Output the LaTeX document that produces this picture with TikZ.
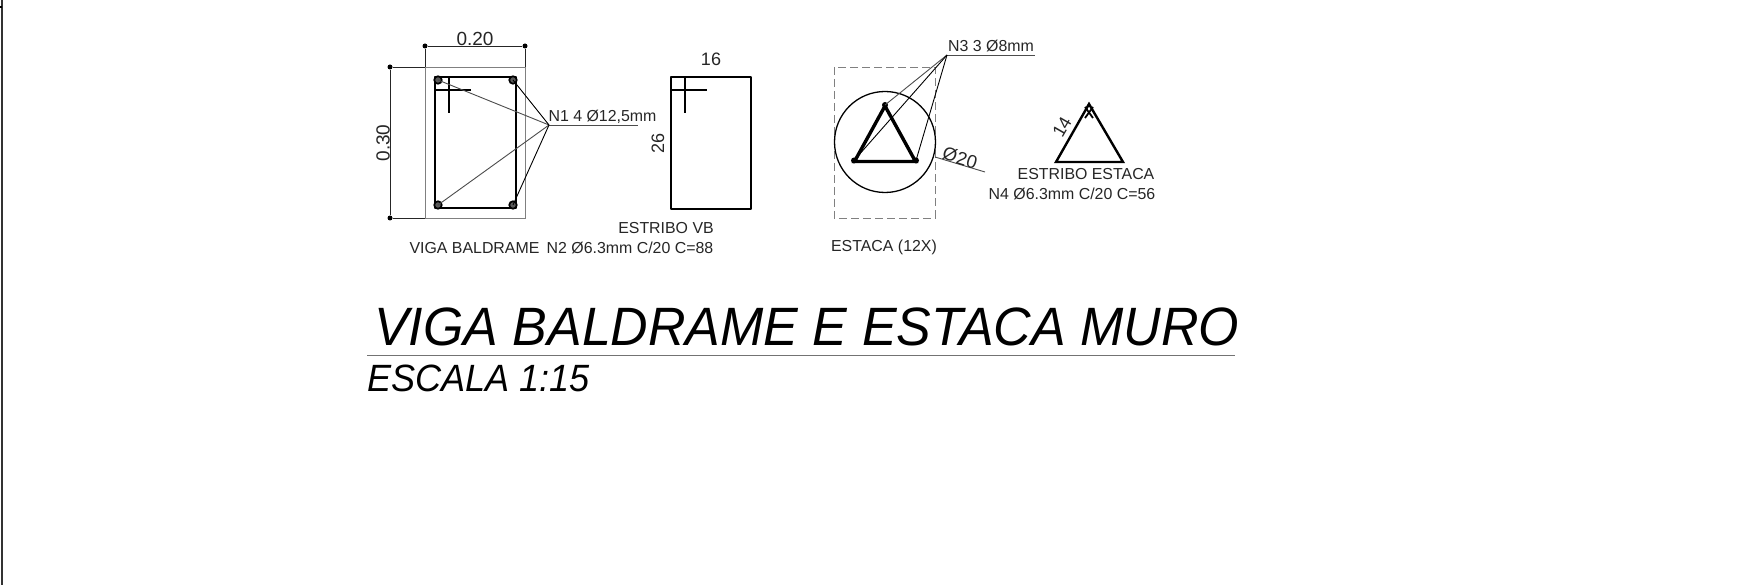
\documentclass[tikz,border=0pt]{standalone}
\usepackage{fontspec}
\setmainfont{Liberation Sans}
\tikzset{
  lbl/.style={inner sep=0pt,font=\fontsize{15.9}{17}\selectfont,text=black!85},
  dimlbl/.style={inner sep=0pt,font=\fontsize{19}{20}\selectfont,text=black!85},
  heavy/.style={draw=black,line width=1.6pt,line join=round},
  med/.style={draw=black,line width=1.1pt},
  thin1/.style={draw=black!70,line width=0.9pt},
  pale/.style={draw=black!50,line width=0.9pt},
  thick3/.style={draw=black,line width=3.4pt,line join=miter},
  bar/.style={circle,draw=black,fill=black!65,line width=1.7pt,minimum size=7.5pt,inner sep=0pt},
  tick/.style={circle,fill=black,minimum size=5pt,inner sep=0pt},
  corner/.style={circle,fill=black,minimum size=6pt,inner sep=0pt}
}
\begin{document}
\begin{tikzpicture}[x=1pt,y=-1pt]
\useasboundingbox[fill=white] (0,0) rectangle (1751,585);
% sheet border
\coordinate (bt) at (2,0); \coordinate (bb) at (2,585);
\coordinate (nk) at (0,7); \coordinate (nk2) at (2,7);
\draw[med,line width=1.3pt,draw=black!80] (bt) -- (bb);
\draw[med] (nk) -- (nk2);
% VIGA BALDRAME
\coordinate (oa) at (425,67); \coordinate (ob) at (525,218);
\draw[pale] (oa) rectangle (ob);
\coordinate (sa) at (435,77); \coordinate (sb) at (516,208);
\draw[heavy] (sa) rectangle (sb);
\coordinate (h1) at (435,90); \coordinate (h2) at (471,90);
\coordinate (h3) at (449,77); \coordinate (h4) at (449,113);
\draw[med] (h1) -- (h2); \draw[med] (h3) -- (h4);
\node[bar] (b1) at (438,80) {}; \node[bar] (b2) at (513,80) {};
\node[bar] (b3) at (438,205) {}; \node[bar] (b4) at (513,205) {};
% dims
\node[tick] (d1) at (425,46) {}; \node[tick] (d2) at (525,46) {};
\draw[thin1,draw=black!85] (d1) -- (d2);
\coordinate (oc) at (425,67); \coordinate (od) at (525,67);
\draw[thin1,draw=black!85] (d1) -- (oc); \draw[thin1,draw=black!85] (d2) -- (od);
\node[tick] (d3) at (390,67) {}; \node[tick] (d4) at (390,218) {};
\coordinate (oe) at (425,218);
\draw[thin1,draw=black!85] (d3) -- (d4); \draw[thin1,draw=black!85] (d3) -- (oc); \draw[thin1,draw=black!85] (d4) -- (oe);
\node[dimlbl] (t020) at (475,39) {0.20};
\node[dimlbl,rotate=90] (t030) at (383,143) {0.30};
% N1 leader
\coordinate (n1) at (549,125); \coordinate (n1e) at (638,125);
\draw[thin1] (n1) -- (n1e);
\draw[thin1] (n1) -- (b1.center);
\draw[thin1] (n1) -- (b3.center);
\draw[thin1,draw=black] (n1) -- (b2.center);
\draw[thin1,draw=black] (n1) -- (b4.center);
\node[lbl] (tn1) at (602.5,116.5) {N1 4 Ø12,5mm};
\node[lbl] (tviga) at (474.5,248) {VIGA BALDRAME};
% ESTRIBO VB
\coordinate (va) at (671,77); \coordinate (vb) at (751,209);
\draw[heavy,line width=1.4pt] (va) rectangle (vb);
\coordinate (v1) at (671,90); \coordinate (v2) at (707,90);
\coordinate (v3) at (685,77); \coordinate (v4) at (685,113);
\draw[med] (v1) -- (v2); \draw[med] (v3) -- (v4);
\node[dimlbl,font=\fontsize{18}{20}\selectfont] (t16) at (711,59) {16};
\node[dimlbl,font=\fontsize{18}{20}\selectfont,rotate=90] (t26) at (658,143) {26};
\node[lbl] (tvb) at (666,228) {ESTRIBO VB};
\node[lbl] (tn2) at (630,248) {N2 Ø6.3mm C/20 C=88};
% ESTACA
\coordinate (ea) at (834,67); \coordinate (eb) at (935,218);
\draw[pale,dash pattern=on 8pt off 4pt] (ea) rectangle (eb);
\node[circle,draw=black,line width=1.3pt,minimum size=101pt,inner sep=0pt] (circ) at (885,142) {};
\coordinate (ta) at (885,106); \coordinate (tb) at (915.5,161.5); \coordinate (tc) at (854.5,161.5);
\draw[thick3] (ta) -- (tb) -- (tc) -- cycle;
\node[corner] (ka) at (885,105) {}; \node[corner] (kb) at (916,160.5) {}; \node[corner] (kc) at (854,160.5) {};
\coordinate (n3) at (947,55); \coordinate (n3e) at (1035,55);
\draw[thin1] (n3) -- (n3e);
\draw[thin1] (n3) -- (ka.center);
\draw[thin1,draw=black] (n3) -- (kc.center);
\draw[thin1,draw=black] (n3) -- (kb.center);
\node[lbl] (tn3) at (991,46) {N3 3 Ø8mm};
\coordinate (f1) at (935,157); \coordinate (f2) at (985,172);
\draw[thin1] (f1) -- (f2);
\node[lbl,font=\fontsize{18.5}{20}\selectfont,rotate=-17] (td) at (960,158) {Ø20};
\node[lbl] (tes) at (884,247) {ESTACA (12X)};
% ESTRIBO ESTACA
\coordinate (ua) at (1089,104); \coordinate (ub) at (1123,162); \coordinate (uc) at (1056,162);
\draw[draw=black,line width=2.4pt,line join=miter] (ua) -- (ub) -- (uc) -- cycle;
\coordinate (x1) at (1085,107); \coordinate (x2) at (1093,118);
\coordinate (x3) at (1093,107); \coordinate (x4) at (1085,118);
\draw[med,line width=1.8pt] (x1) -- (x2); \draw[med,line width=1.8pt] (x3) -- (x4);
\node[lbl,font=\fontsize{18}{20}\selectfont,rotate=60] (t14) at (1062,127) {14};
\node[lbl] (tee) at (1086,174) {ESTRIBO ESTACA};
\node[lbl] (tn4) at (1072,194) {N4 Ø6.3mm C/20 C=56};
% title
\node[inner sep=0pt,anchor=base west,xscale=.962,font=\fontsize{54}{60}\selectfont\itshape,text=black] (title) at (374,345) {VIGA BALDRAME E ESTACA MURO};
\coordinate (ul1) at (367,355.5); \coordinate (ul2) at (1235,355.5);
\draw[draw=black!55,line width=1.5pt] (ul1) -- (ul2);
\node[inner sep=0pt,anchor=base west,xscale=.95,font=\fontsize{38}{42}\selectfont\itshape,text=black] (scale) at (367,391) {ESCALA 1:15};
\end{tikzpicture}
\end{document}
